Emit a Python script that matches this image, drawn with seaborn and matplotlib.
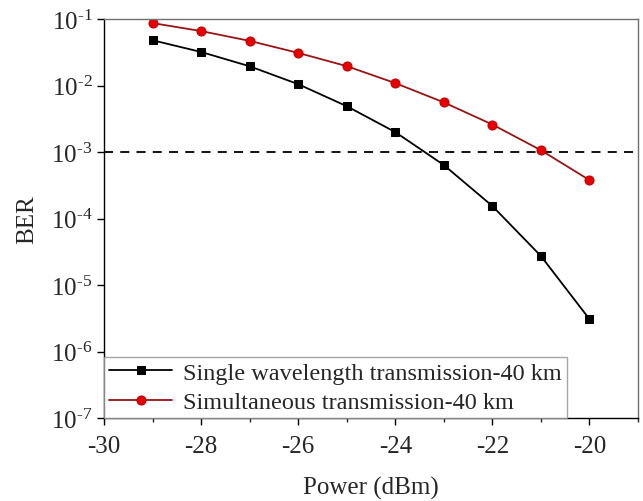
import numpy as np
import pandas as pd
import matplotlib
matplotlib.use("Agg")
import matplotlib.pyplot as plt
import seaborn as sns
from matplotlib.ticker import MultipleLocator, LogLocator, NullLocator, FuncFormatter

power = [-29, -28, -27, -26, -25, -24, -23, -22, -21, -20]
ber_single = [4.8e-2, 3.2e-2, 1.95e-2, 1.05e-2, 4.9e-3, 2.0e-3, 6.4e-4, 1.55e-4, 2.75e-5, 3.1e-6]
ber_simul = [8.7e-2, 6.6e-2, 4.7e-2, 3.1e-2, 1.96e-2, 1.09e-2, 5.6e-3, 2.6e-3, 1.07e-3, 3.8e-4]
fec_limit = 1e-3
label_single = "Single wavelength transmission-40 km"
label_simul = "Simultaneous transmission-40 km"

sns.set_style("ticks")
plt.rcParams['font.family'] = ['Liberation Serif', 'DejaVu Serif']
plt.rcParams['mathtext.fontset'] = 'custom'
plt.rcParams['mathtext.rm'] = 'Liberation Serif'
plt.rcParams['mathtext.it'] = 'Liberation Serif:italic'
plt.rcParams['mathtext.bf'] = 'Liberation Serif:bold'
plt.rcParams['axes.unicode_minus'] = False

df = pd.DataFrame({'power': power, 'single': ber_single, 'simul': ber_simul})

fig = plt.figure(figsize=(6.43, 5.02), dpi=100)
ax = fig.add_axes([0.162, 0.165, 0.830, 0.795])

sns.lineplot(data=df, x='power', y='single', ax=ax, color='black', marker='s',
             markersize=5.5, markeredgecolor='black', linewidth=1.3, label=label_single)
sns.lineplot(data=df, x='power', y='simul', ax=ax, color='#9a1414', marker='o',
             markersize=6.5, markerfacecolor='#e80000', markeredgecolor='#c00000',
             linewidth=1.3, label=label_simul)
ax.axhline(fec_limit, color='black', linestyle=(0, (5, 4)), linewidth=1.3, zorder=1)

ax.set_yscale('log')
ax.set_xlim(-30, -19)
ax.set_ylim(1e-7, 1e-1)
ax.xaxis.set_major_locator(MultipleLocator(2))
ax.xaxis.set_minor_locator(MultipleLocator(1))
ax.xaxis.set_major_formatter(FuncFormatter(lambda v, p: f"{v:.0f}"))
ax.yaxis.set_major_locator(LogLocator(base=10, numticks=10))
ax.yaxis.set_minor_locator(NullLocator())
ax.yaxis.set_major_formatter(FuncFormatter(
    lambda v, p: r"$10^{\text{%d}}$" % round(np.log10(v))))
ax.tick_params(axis='both', which='major', direction='out', length=5, width=1,
               labelsize=18, color='black')
ax.tick_params(axis='x', which='major', pad=7)
ax.tick_params(axis='x', which='minor', direction='out', length=3, width=1)

ax.set_xlabel('Power (dBm)', fontsize=18, labelpad=14)
ax.set_ylabel('BER', fontsize=18, labelpad=9)

for side in ['left', 'bottom']:
    ax.spines[side].set_color('black')
    ax.spines[side].set_linewidth(1.0)
for side in ['top', 'right']:
    ax.spines[side].set_visible(True)
    ax.spines[side].set_color('#707070')
    ax.spines[side].set_linewidth(1.0)

leg = ax.legend(loc='lower left', bbox_to_anchor=(0, 0), borderaxespad=0,
                fontsize=17.5, frameon=True, fancybox=False, handlelength=2.6,
                labelspacing=0.3, handletextpad=0.45, borderpad=0.2)
leg.get_frame().set_edgecolor('#909090')
leg.get_frame().set_linewidth(1.0)

fig.savefig('out.png', dpi=100)
